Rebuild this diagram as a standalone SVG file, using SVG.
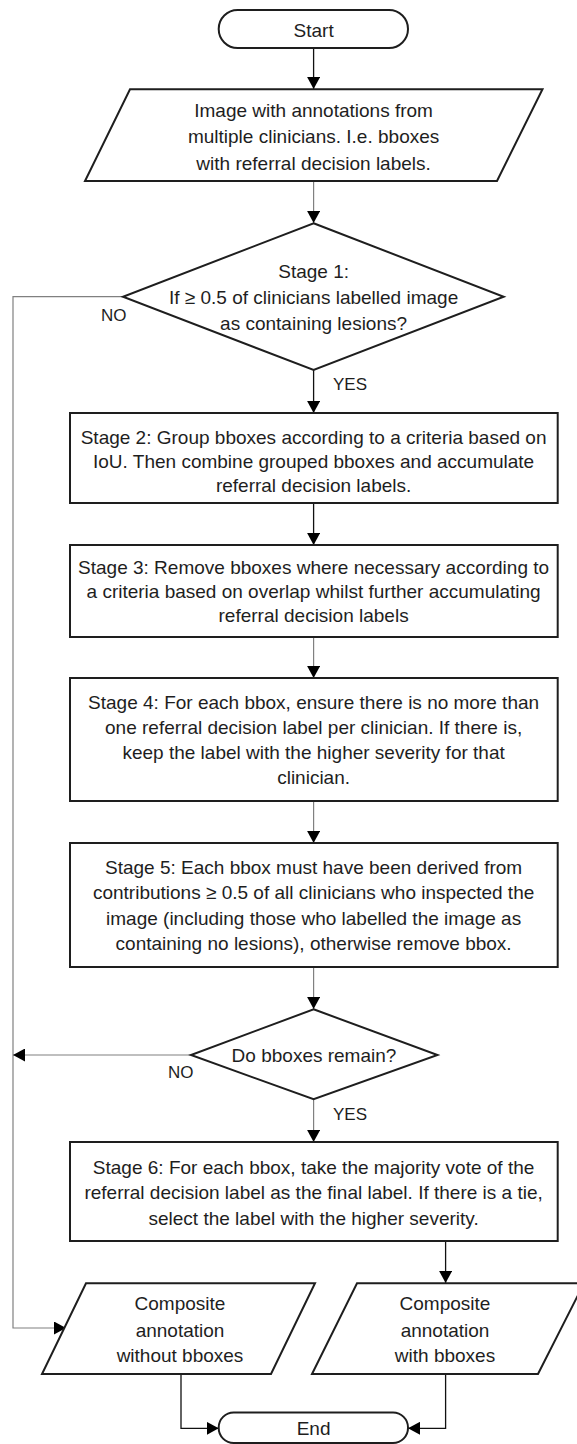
<svg xmlns="http://www.w3.org/2000/svg" width="577" height="1444" viewBox="0 0 577 1444">
<style>
.shape{fill:#fff;stroke:#1e1e1e;stroke-width:2}
.t{font-family:"Liberation Sans",Arial,sans-serif;font-size:19px;fill:#1e1e1e;text-anchor:middle}
.lbl{font-family:"Liberation Sans",Arial,sans-serif;font-size:17px;fill:#1e1e1e}
.dark{fill:none;stroke:#111;stroke-width:1.3}
.gray{fill:none;stroke:#808080;stroke-width:1.2}
</style>
<defs>
<marker id="ah" markerUnits="userSpaceOnUse" markerWidth="13" markerHeight="13" refX="12" refY="6.5" orient="auto">
<path d="M0,0 L12,6.5 L0,13 z" fill="#000"/>
</marker>
</defs>
<rect width="577" height="1444" fill="#fff"/>
<g id="connectors">
<path class="dark" d="M313.6,48 V89" marker-end="url(#ah)"/>
<path class="gray" d="M313.6,181 V223" marker-end="url(#ah)"/>
<path class="dark" d="M313.6,370 V413" marker-end="url(#ah)"/>
<path class="dark" d="M313.6,503 V545" marker-end="url(#ah)"/>
<path class="gray" d="M313.6,637 V678" marker-end="url(#ah)"/>
<path class="gray" d="M313.6,801 V843" marker-end="url(#ah)"/>
<path class="gray" d="M313.6,967 V1009" marker-end="url(#ah)"/>
<path class="gray" d="M313.6,1099 V1142" marker-end="url(#ah)"/>
<path class="gray" d="M123,296.7 H13 V1328 H66" marker-end="url(#ah)"/>
<path class="gray" d="M191,1055 H13" marker-end="url(#ah)"/>
<path class="dark" d="M445.6,1241 V1283" marker-end="url(#ah)"/>
<path class="dark" d="M181,1374 V1428.3 H218.7" marker-end="url(#ah)"/>
<path class="dark" d="M445.6,1374 V1428.3 H408" marker-end="url(#ah)"/>
<text class="lbl" x="101" y="320.5">NO</text>
<text class="lbl" x="333" y="389.5">YES</text>
<text class="lbl" x="168" y="1078">NO</text>
<text class="lbl" x="333" y="1120">YES</text>
</g>
<g id="start">
<rect class="shape" x="218.7" y="10" width="189.3" height="38" rx="19"/>
<text class="t" x="313.6" y="36.5">Start</text>
</g>
<g id="input">
<polygon class="shape" points="130,89.3 542.5,89.3 497,181 85,181"/>
<text class="t" x="313.6" y="116.5">Image with annotations from</text>
<text class="t" x="313.6" y="143">multiple clinicians. I.e. bboxes</text>
<text class="t" x="313.6" y="169.5">with referral decision labels.</text>
</g>
<g id="stage1">
<polygon class="shape" points="313.6,223.3 503.7,296.7 313.6,370 123,296.7"/>
<text class="t" x="313.6" y="278">Stage 1:</text>
<text class="t" x="313.6" y="304">If ≥ 0.5 of clinicians labelled image</text>
<text class="t" x="313.6" y="330">as containing lesions?</text>
</g>
<g id="stage2">
<rect class="shape" x="70" y="413" width="487.7" height="90"/>
<text class="t" x="313.6" y="443.5">Stage 2: Group bboxes according to a criteria based on</text>
<text class="t" x="313.6" y="467.5">IoU. Then combine grouped bboxes and accumulate</text>
<text class="t" x="313.6" y="491.5">referral decision labels.</text>
</g>
<g id="stage3">
<rect class="shape" x="70" y="545" width="487.7" height="92"/>
<text class="t" x="313.6" y="573.5">Stage 3: Remove bboxes where necessary according to</text>
<text class="t" x="313.6" y="597.5">a criteria based on overlap whilst further accumulating</text>
<text class="t" x="313.6" y="621.5">referral decision labels</text>
</g>
<g id="stage4">
<rect class="shape" x="70" y="678" width="487.7" height="123"/>
<text class="t" x="313.6" y="708.5">Stage 4: For each bbox, ensure there is no more than</text>
<text class="t" x="313.6" y="733.5">one referral decision label per clinician. If there is,</text>
<text class="t" x="313.6" y="758.5">keep the label with the higher severity for that</text>
<text class="t" x="313.6" y="783.5">clinician.</text>
</g>
<g id="stage5">
<rect class="shape" x="70" y="843" width="487.7" height="124"/>
<text class="t" x="313.6" y="873.5">Stage 5: Each bbox must have been derived from</text>
<text class="t" x="313.6" y="899">contributions ≥ 0.5 of all clinicians who inspected the</text>
<text class="t" x="313.6" y="924.5">image (including those who labelled the image as</text>
<text class="t" x="313.6" y="950">containing no lesions), otherwise remove bbox.</text>
</g>
<g id="decision2">
<polygon class="shape" points="313.6,1009.3 437.5,1055 313.6,1099.3 191,1055"/>
<text class="t" x="314" y="1061.5">Do bboxes remain?</text>
</g>
<g id="stage6">
<rect class="shape" x="70" y="1142" width="487.7" height="99"/>
<text class="t" x="313.6" y="1173.5">Stage 6: For each bbox, take the majority vote of the</text>
<text class="t" x="313.6" y="1199">referral decision label as the final label. If there is a tie,</text>
<text class="t" x="313.6" y="1224.5">select the label with the higher severity.</text>
</g>
<g id="out-without">
<polygon class="shape" points="86,1283.3 315,1283.3 271,1374 42,1374"/>
<text class="t" x="180" y="1310">Composite</text>
<text class="t" x="180" y="1336.5">annotation</text>
<text class="t" x="180" y="1361.5">without bboxes</text>
</g>
<g id="out-with">
<polygon class="shape" points="357,1283.3 584,1283.3 538,1374 312,1374"/>
<text class="t" x="445" y="1310">Composite</text>
<text class="t" x="445" y="1336.5">annotation</text>
<text class="t" x="445" y="1361.5">with bboxes</text>
</g>
<g id="end">
<rect class="shape" x="218.7" y="1412.5" width="189.3" height="30.5" rx="15"/>
<text class="t" x="313.6" y="1435">End</text>
</g>
</svg>
